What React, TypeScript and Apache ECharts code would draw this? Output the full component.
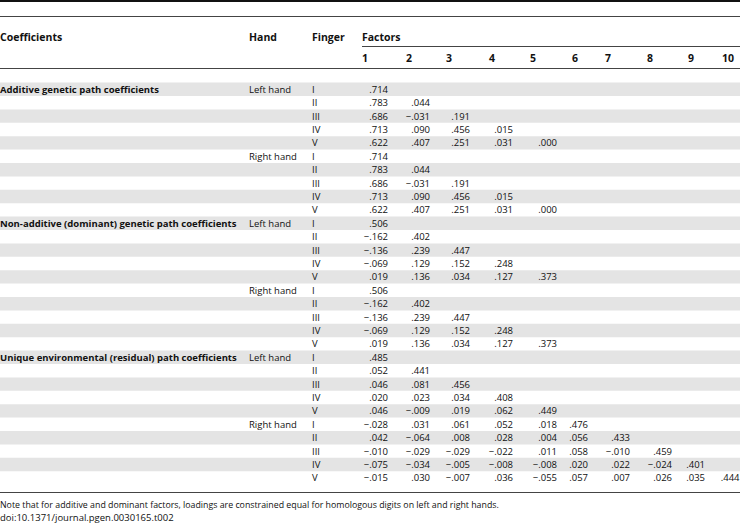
import React, { useEffect, useRef } from "react";
import * as echarts from "echarts";

// ---------- data ----------
const coefficientGroups = [
  "Additive genetic path coefficients",
  "Non-additive (dominant) genetic path coefficients",
  "Unique environmental (residual) path coefficients",
];
const handLabels = ["Left hand", "Right hand"];
const fingerLabels = ["I", "II", "III", "IV", "V"];
const factorLabels = ["1", "2", "3", "4", "5", "6", "7", "8", "9", "10"];
const headerLabels = ["Coefficients", "Hand", "Finger", "Factors"];

const additiveLoadings = [
  [0.714],
  [0.783, 0.044],
  [0.686, -0.031, 0.191],
  [0.713, 0.09, 0.456, 0.015],
  [0.622, 0.407, 0.251, 0.031, 0.0],
];
const dominantLoadings = [
  [0.506],
  [-0.162, 0.402],
  [-0.136, 0.239, 0.447],
  [-0.069, 0.129, 0.152, 0.248],
  [0.019, 0.136, 0.034, 0.127, 0.373],
];
const environmentalLeft = [
  [0.485],
  [0.052, 0.441],
  [0.046, 0.081, 0.456],
  [0.02, 0.023, 0.034, 0.408],
  [0.046, -0.009, 0.019, 0.062, 0.449],
];
const environmentalRight = [
  [-0.028, 0.031, 0.061, 0.052, 0.018, 0.476],
  [0.042, -0.064, 0.008, 0.028, 0.004, 0.056, 0.433],
  [-0.01, -0.029, -0.029, -0.022, 0.011, 0.058, -0.01, 0.459],
  [-0.075, -0.034, -0.005, -0.008, -0.008, 0.02, 0.022, -0.024, 0.401],
  [-0.015, 0.03, -0.007, 0.036, -0.055, 0.057, 0.007, 0.026, 0.035, 0.444],
];
const noteText =
  "Note that for additive and dominant factors, loadings are constrained equal for homologous digits on left and right hands.";
const doiText = "doi:10.1371/journal.pgen.0030165.t002";

// ---------- table rows built from data ----------
type Row = { group: string; hand: string; finger: string; values: number[] };
const rows: Row[] = [];
const blocks: [string, number[][], number[][]][] = [
  [coefficientGroups[0], additiveLoadings, additiveLoadings],
  [coefficientGroups[1], dominantLoadings, dominantLoadings],
  [coefficientGroups[2], environmentalLeft, environmentalRight],
];
blocks.forEach(([g, left, right]) => {
  [left, right].forEach((mat, h) => {
    mat.forEach((vals, f) =>
      rows.push({
        group: h === 0 && f === 0 ? g : "",
        hand: f === 0 ? handLabels[h] : "",
        finger: fingerLabels[f],
        values: vals,
      })
    );
  });
});

const fmt = (v: number) => {
  const s = Math.abs(v).toFixed(3).replace(/^0/, "");
  return v < 0 ? "\u2212" + s : s;
};

// ---------- layout ----------
const W = 740;
const H = 532;
const FONT = "'Open Sans', sans-serif";
const FS = 9.5;
const FS_HEAD = 10.5;
const FS_NOTE = 8.8;
const TEXT = "#111";
const LINE = "#444";
const SHADE = "#e4e4e4";
const COL_GROUP = 0;
const COL_HAND = 249;
const COL_FINGER = 312;
const FACTOR_LEFT = [362, 406, 446, 489, 530, 572, 605, 647, 688, 722];
const FACTOR_RIGHT = [388, 430, 470, 513, 557, 588, 630, 672, 705, 739.5];
const BODY_TOP = 82.6;
const ROW_H = 13.4;

export default function App() {
  const ref = useRef<HTMLDivElement>(null);
  useEffect(() => {
    if (!ref.current) return;
    const chart = echarts.init(ref.current, undefined, { renderer: "svg" });

    const txt = (x: number, y: number, text: string, bold: boolean, align = "left", size = FS) => ({
      type: "text",
      x,
      y,
      style: {
        text,
        fill: TEXT,
        fontFamily: FONT,
        fontSize: size,
        fontWeight: bold ? "bold" : "normal",
        align,
        verticalAlign: "middle",
      },
    });
    const hline = (x1: number, x2: number, y: number, w: number, color = LINE) => ({
      type: "line",
      shape: { x1, y1: y, x2, y2: y },
      style: { stroke: color, lineWidth: w },
    });

    const headerX = [COL_GROUP, COL_HAND, COL_FINGER, FACTOR_LEFT[0]];
    const graphic: any[] = [
      hline(0, W, 1, 2, "#111"),
      hline(0, W, 16.5, 1),
      hline(FACTOR_LEFT[0], W, 46.5, 1),
      hline(0, W, 68.5, 1),
      hline(0, W, 492.5, 1),
      ...headerLabels.map((t, i) => txt(headerX[i], 37, t, true, "left", FS_HEAD)),
      ...factorLabels.map((t, i) => txt(FACTOR_LEFT[i], 58, t, true, "left", FS_HEAD)),
      txt(0, 505, noteText, false, "left", FS_NOTE),
      txt(0, 517, doiText, false, "left", FS),
    ];

    chart.setOption({
      animation: false,
      grid: { left: 0, right: 0, top: BODY_TOP, height: ROW_H * rows.length },
      xAxis: { type: "value", min: 0, max: W, show: false },
      yAxis: {
        type: "category",
        data: rows.map((_, i) => String(i)),
        inverse: true,
        show: false,
      },
      graphic,
      series: [
        {
          type: "custom",
          clip: false,
          data: rows.map((_, i) => [0, i]),
          encode: { x: 0, y: 1 },
          renderItem: (params: any, api: any) => {
            const r = api.value(1) as number;
            const row = rows[r];
            const [, cy] = api.coord([0, r]);
            const h = api.size([0, 1])[1];
            const cs = params.coordSys;
            const children: any[] = [];
            if (r % 2 === 0) {
              children.push({
                type: "rect",
                shape: { x: cs.x, y: cy - h / 2, width: cs.width, height: h },
                style: { fill: SHADE },
              });
            }
            const px = (v: number) => api.coord([v, r])[0];
            if (row.group) children.push(txt(px(COL_GROUP), cy, row.group, true));
            if (row.hand) children.push(txt(px(COL_HAND), cy, row.hand, false));
            children.push(txt(px(COL_FINGER), cy, row.finger, false));
            row.values.forEach((v, i) => {
              children.push(txt(px(FACTOR_RIGHT[i]), cy, fmt(v), false, "right"));
            });
            return { type: "group", children };
          },
        },
      ],
    });
    return () => chart.dispose();
  }, []);
  return (
    <div
      ref={ref}
      style={{ position: "fixed", left: 0, top: 0, width: W, height: H, background: "#fff" }}
    />
  );
}
